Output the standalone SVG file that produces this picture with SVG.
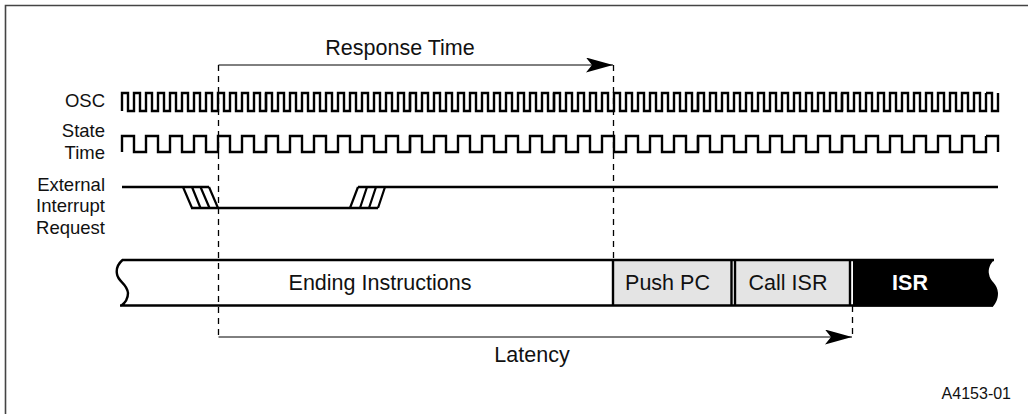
<svg xmlns="http://www.w3.org/2000/svg" width="1028" height="414" viewBox="0 0 1028 414">
<style>
text{font-family:"Liberation Sans",Arial,sans-serif;fill:#111}
.lb{font-size:18.500px;text-anchor:end}
.big{font-size:21.500px;text-anchor:middle}
.sig{fill:none;stroke:#000;stroke-width:2.400}
.hatch{fill:none;stroke:#000;stroke-width:2.200}
.thin{fill:none;stroke:#000;stroke-width:1}
.dash{fill:none;stroke:#000;stroke-width:1.300;stroke-dasharray:6 5}
.bar{fill:none;stroke:#000;stroke-width:2.400}
</style>
<defs>
<marker id="ah" markerUnits="userSpaceOnUse" markerWidth="28" markerHeight="16" refX="27" refY="7.500" orient="auto"><path d="M0 0L27 7.500L0 15L6 7.500Z" fill="#000"/></marker>
<path id="oscblock" class="sig" d="M0 18V0h6v18h6V0h6v18h6V0h6v18h6V0h6v18h6V0h6v18h6V0h6v18h6V0h6v18h6V0h6v18h6V0h6v18h6V0h6v18h6V0h6v18h6V0h6v18h6V0"/>
<path id="stateblock" class="sig" d="M0 16V0h12v16h12V0h12v16h12V0h12v16h12V0h12v16h12V0h12v16h12V0h12v16h12V0"/>
</defs>
<path id="frame" d="M5.500 414V5.500H1028" fill="none" stroke="#444" stroke-width="1.600"/>
<g id="osc"><text class="lb" x="105" y="107">OSC</text>
<use href="#oscblock" x="122" y="93"/><use href="#oscblock" x="266" y="93"/><use href="#oscblock" x="410" y="93"/><use href="#oscblock" x="554" y="93"/><use href="#oscblock" x="698" y="93"/><use href="#oscblock" x="842" y="93"/>
<path class="sig" d="M986 93h6v18h6V93"/></g>
<g id="state"><text class="lb" x="105" y="137">State</text><text class="lb" x="105" y="159">Time</text>
<use href="#stateblock" x="122" y="136"/><use href="#stateblock" x="266" y="136"/><use href="#stateblock" x="410" y="136"/><use href="#stateblock" x="554" y="136"/><use href="#stateblock" x="698" y="136"/><use href="#stateblock" x="842" y="136"/>
<path class="sig" d="M986 136h12v16"/></g>
<g id="interrupt"><text class="lb" x="105" y="191">External</text><text class="lb" x="105" y="212">Interrupt</text><text class="lb" x="105" y="234">Request</text>
<path class="sig" d="M122 187H209M191 208H378M358 187H998"/>
<path class="hatch" d="M183 187L192 208M192 187L200.500 208M200.500 187L209.500 208M209 187L218 208M350 208L358 187M360 208L367 187M369 208L376 187M378 208L385 187"/>
</g>
<g id="bar">
<rect x="613" y="260" width="119" height="45.500" fill="#e4e4e4"/>
<rect x="735" y="260" width="115" height="45.500" fill="#e4e4e4"/>
<path d="M853 260H994C990 264 988 269 989 274C990 282 997.500 283 998 293C998 299 996 303 993 306.500H853Z" fill="#000"/>
<path class="bar" d="M122 260H994M120 305.500H993M122.500 260C118 264 116 269 117 274C118 282 127 283 128 293C128 299 125 303 121 306M613 260V306M731.500 260V306M735 260V306M850 260V306"/>
<text class="big" x="380" y="290">Ending Instructions</text>
<text class="big" x="667.500" y="290">Push PC</text>
<text class="big" x="788" y="290">Call ISR</text>
<text class="big" x="910" y="290" font-weight="bold" style="fill:#fff">ISR</text>
</g>
<g id="connectors">
<path class="dash" d="M218.500 65V337"/>
<path class="dash" d="M613.500 65V260"/>
<path class="dash" d="M852.500 306V337"/>
<path class="thin" marker-end="url(#ah)" d="M218.500 65H613"/>
<path class="thin" marker-end="url(#ah)" d="M218.500 337H852"/>
</g>
<text id="t-response" class="big" x="400" y="55">Response Time</text>
<text id="t-latency" class="big" x="532" y="362">Latency</text>
<text id="t-code" x="1011" y="399" font-size="16" text-anchor="end">A4153-01</text>
</svg>
